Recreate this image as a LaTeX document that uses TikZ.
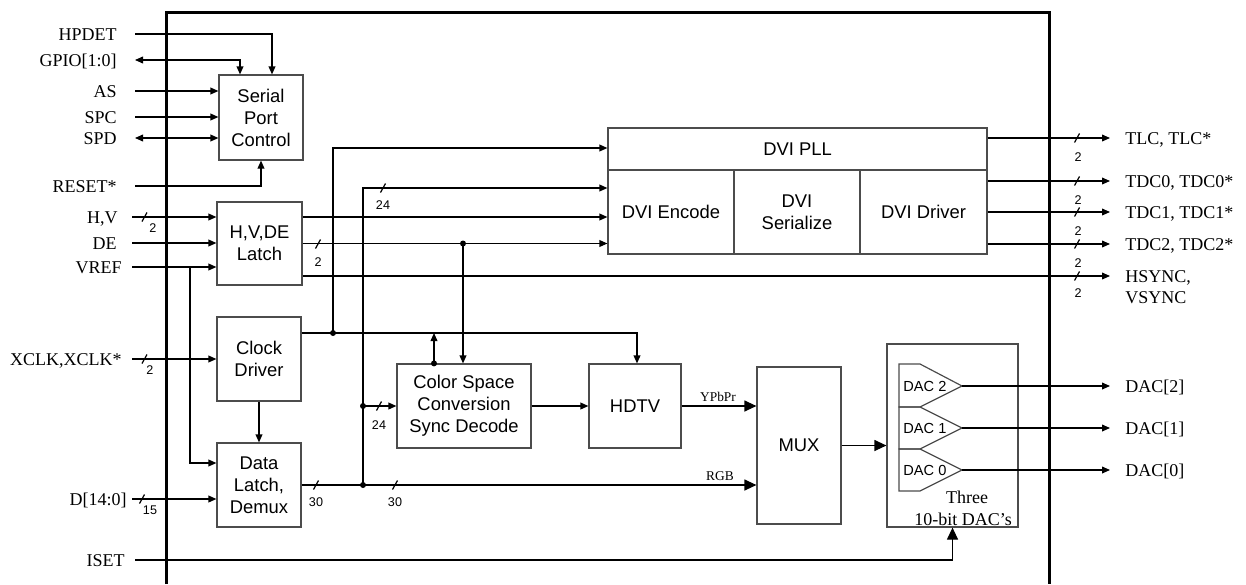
\documentclass[tikz,border=0pt]{standalone}
\usepackage{fontspec}
\setmainfont{Liberation Serif}
\setsansfont{Liberation Sans}
\usetikzlibrary{arrows.meta}
\newcommand\busmark[2]{\draw[wire] (#1-2.5,#2+4.5) -- (#1+2.5,#2-4.5);}
\begin{document}
\begin{tikzpicture}[x=0.5pt,y=-0.5pt,
  box/.style={draw=black!70, line width=0.6pt, inner sep=0pt, align=center, font=\sffamily\fontsize{9.2}{11}\selectfont},
  wire/.style={draw=black, line width=0.6pt},
  arr/.style={wire,-{Triangle[length=4pt,width=3.4pt]}},
  biarr/.style={wire,{Triangle[length=4pt,width=3.4pt]}-{Triangle[length=4pt,width=3.4pt]}},
  bigarr/.style={wire,-{Triangle[length=6pt,width=5.5pt]}},
  pin/.style={font=\fontsize{9}{10.5}\selectfont, inner sep=0pt, text height=6pt, text depth=0pt},
  bw/.style={font=\sffamily\fontsize{6.3}{7}\selectfont, inner sep=0pt},
  small/.style={font=\fontsize{6.7}{7}\selectfont, inner sep=0pt},
  dacl/.style={font=\sffamily\fontsize{7.3}{8}\selectfont, inner sep=0pt, anchor=west},
  jdot/.style={circle, fill=black, inner sep=0pt, minimum size=3pt},
  dacshape/.style={draw=black!70, line width=0.6pt},
]
\useasboundingbox (0,0) rectangle (1246,584);
% chip border
\draw[line width=1.5pt] (166,584) -- (166,12) -- (1049,12) -- (1049,584);

% blocks
\node[box, minimum width=42pt, minimum height=42.5pt] (spc) at (261,117.5) {Serial\\Port\\Control};
\node[box, minimum width=42.5pt, minimum height=41.5pt] (latch) at (259.5,243.5) {H,V,DE\\Latch};
\node[box, minimum width=42pt, minimum height=42pt] (clk) at (259,359) {Clock\\Driver};
\node[box, minimum width=42pt, minimum height=42pt] (data) at (259,485) {Data\\Latch,\\Demux};
\node[box, minimum width=67pt, minimum height=42pt] (csc) at (464,406) {Color Space\\Conversion\\Sync Decode};
\node[box, minimum width=46pt, minimum height=42pt] (hdtv) at (635,406) {HDTV};
\node[box, minimum width=42pt, minimum height=78.5pt] (mux) at (799,445.5) {MUX};
\node[box, minimum width=65.5pt, minimum height=91.5pt] (dacs) at (952.5,435.5) {};
\node[box, minimum width=189.5pt, minimum height=21pt] (pll) at (797.5,149) {DVI PLL};
\node[box, minimum width=63pt, minimum height=42pt] (enc) at (671,212) {DVI Encode};
\node[box, minimum width=63pt, minimum height=42pt] (ser) at (797,212) {DVI\\Serialize};
\node[box, minimum width=63.5pt, minimum height=42pt] (drv) at (923.5,212) {DVI Driver};

% DAC shapes
\draw[dacshape] (899,364) -- (920,364) -- (962,386) -- (920,407) -- (899,407) -- cycle;
\draw[dacshape] (899,407) -- (920,407) -- (962,428) -- (920,449) -- (899,449) -- cycle;
\draw[dacshape] (899,449) -- (920,449) -- (962,470) -- (920,491) -- (899,491) -- cycle;
\node[dacl] (dac2) at (903,386) {DAC 2};
\node[dacl] (dac1) at (903,428) {DAC 1};
\node[dacl] (dac0) at (903,470) {DAC 0};
\node[pin] (three) at (967,497) {Three};
\node[pin] (tenbit) at (963,519) {10-bit DAC\symbol{39}s};
\coordinate (t2) at (962,386);
\coordinate (t1) at (962,428);
\coordinate (t0) at (962,470);

% left pin labels
\node[pin, anchor=east] (lHP) at (117,34) {HPDET};
\node[pin, anchor=east] (lGP) at (117,60) {GPIO[1:0]};
\node[pin, anchor=east] (lAS) at (117,91) {AS};
\node[pin, anchor=east] (lSPC) at (117,117) {SPC};
\node[pin, anchor=east] (lSPD) at (117,138) {SPD};
\node[pin, anchor=east] (lRS) at (117,186) {RESET*};
\node[pin, anchor=east] (lHV) at (118,217) {H,V};
\node[pin, anchor=east] (lDE) at (117,243) {DE};
\node[pin, anchor=east] (lVR) at (122,267) {VREF};
\node[pin, anchor=east] (lXC) at (122,359) {XCLK,XCLK*};
\node[pin, anchor=east] (lD) at (127,499) {D[14:0]};
\node[pin, anchor=east] (lIS) at (125,560) {ISET};
\coordinate (pHP) at (135,34);
\coordinate (pGP) at (135,60);
\coordinate (pAS) at (135,91);
\coordinate (pSPC) at (135,117);
\coordinate (pSPD) at (135,138);
\coordinate (pRS) at (135,186);
\coordinate (pHV) at (132,217);
\coordinate (pDE) at (132,243);
\coordinate (pVR) at (132,267);
\coordinate (pXC) at (132,359);
\coordinate (pD) at (132,499);
\coordinate (pIS) at (135,560);

% right pin labels
\node[pin, anchor=west] (rTLC) at (1125,138) {TLC, TLC*};
\node[pin, anchor=west] (rT0) at (1125,181) {TDC0, TDC0*};
\node[pin, anchor=west] (rT1) at (1125,212) {TDC1, TDC1*};
\node[pin, anchor=west] (rT2) at (1125,244) {TDC2, TDC2*};
\node[font=\fontsize{9}{10.5}\selectfont, inner sep=0pt, anchor=north west, align=left] (rHS) at (1125,270) {HSYNC,\\VSYNC};
\node[pin, anchor=west] (rD2) at (1125,386) {DAC[2]};
\node[pin, anchor=west] (rD1) at (1125,428) {DAC[1]};
\node[pin, anchor=west] (rD0) at (1125,470) {DAC[0]};
\coordinate (oTLC) at (1110,138);
\coordinate (oT0) at (1110,181);
\coordinate (oT1) at (1110,212);
\coordinate (oT2) at (1110,244);
\coordinate (oHS) at (1110,276);
\coordinate (oD2) at (1110,386);
\coordinate (oD1) at (1110,428);
\coordinate (oD0) at (1110,470);

% serial port connections
\draw[arr] (pHP) -| ([xshift=5.5pt]spc.north);
\draw[biarr] (pGP) -| ([xshift=-10.5pt]spc.north);
\draw[arr] (pAS) -- (pAS -| spc.west);
\draw[arr] (pSPC) -- (pSPC -| spc.west);
\draw[biarr] (pSPD) -- (pSPD -| spc.west);
\draw[arr] (pRS) -| (spc.south);

% latch inputs
\draw[arr] (pHV) -- (pHV -| latch.west);
\draw[arr] (pDE) -- (pDE -| latch.west);
\draw[arr] (pVR) -- (pVR -| latch.west);
\coordinate (vbr) at (190,267);
\draw[arr] (vbr) |- ([yshift=11pt]data.west);
\draw[arr] (pXC) -- (pXC -| clk.west);
\draw[arr] (clk.south) -- (data.north);
\draw[arr] (pD) -- (pD -| data.west);
\draw[bigarr] (pIS) -| (dacs.south);

% latch outputs
\coordinate (lo1) at ([yshift=13.25pt]latch.east);
\coordinate (lo3) at ([yshift=-16.25pt]latch.east);
\draw[arr] (lo1) -- (lo1 -| enc.west);
\draw[arr] (latch.east) -- (latch.east -| enc.west);
\draw[arr] (lo3) -- (oHS);
\coordinate (j2) at (463,243.5);
\draw[arr] (j2) -- (j2 |- csc.north);
\node[jdot] (dj2) at (j2) {};

% clock line
\coordinate (co) at ([yshift=13pt]clk.east);
\draw[arr] (co) -| ([xshift=1pt]hdtv.north);
\coordinate (j1) at (333,333);
\draw[arr] (j1) |- ([yshift=0.5pt]pll.west);
\node[jdot] (dj1) at (j1) {};
\coordinate (j4) at (434,333);
\draw[arr] (j4 |- csc.north) -- (j4);
\node[jdot] (dj4) at (j4 |- csc.north) {};

% data path
\draw[bigarr] (data.east) -- (data.east -| mux.west);
\coordinate (j3) at (363,485);
\coordinate (j5) at (363,406);
\draw[wire] (j3) -- (j5);
\draw[arr] (j5) |- ([yshift=12pt]enc.west);
\draw[arr] (j5) -- (j5 -| csc.west);
\node[jdot] (dj3) at (j3) {};
\node[jdot] (dj5) at (j5) {};
\draw[arr] (csc.east) -- (hdtv.west);
\draw[bigarr] (hdtv.east) -- (hdtv.east -| mux.west);
\node[small] (ypbpr) at (718,397) {YPbPr};
\node[small] (rgb) at (720,476) {RGB};
\draw[bigarr] (mux.east) -- (mux.east -| dacs.west);

% DVI outputs
\draw[arr] (oTLC -| pll.east) -- (oTLC);
\draw[arr] (oT0 -| drv.east) -- (oT0);
\draw[arr] (oT1 -| drv.east) -- (oT1);
\draw[arr] (oT2 -| drv.east) -- (oT2);

% DAC outputs
\draw[arr] (t2) -- (oD2);
\draw[arr] (t1) -- (oD1);
\draw[arr] (t0) -- (oD0);

% bus marks
\busmark{144.5}{217}
\busmark{144.5}{359}
\busmark{142}{499}
\busmark{318}{244}
\busmark{383}{188}
\busmark{379}{406}
\busmark{316}{485}
\busmark{395}{485}
\busmark{1077}{138}
\busmark{1077}{181}
\busmark{1077}{212}
\busmark{1077}{244}
\busmark{1077}{276}
\node[bw] (w1) at (153,228) {2};
\node[bw] (w2) at (150,370) {2};
\node[bw] (w3) at (150,510) {15};
\node[bw] (w4) at (318,262) {2};
\node[bw] (w5) at (383,205) {24};
\node[bw] (w6) at (379,425) {24};
\node[bw] (w7) at (316,502) {30};
\node[bw] (w8) at (395,502) {30};
\node[bw] (w9) at (1078,157) {2};
\node[bw] (w10) at (1078,200) {2};
\node[bw] (w11) at (1078,231) {2};
\node[bw] (w12) at (1078,263) {2};
\node[bw] (w13) at (1078,293) {2};
\end{tikzpicture}
\end{document}
